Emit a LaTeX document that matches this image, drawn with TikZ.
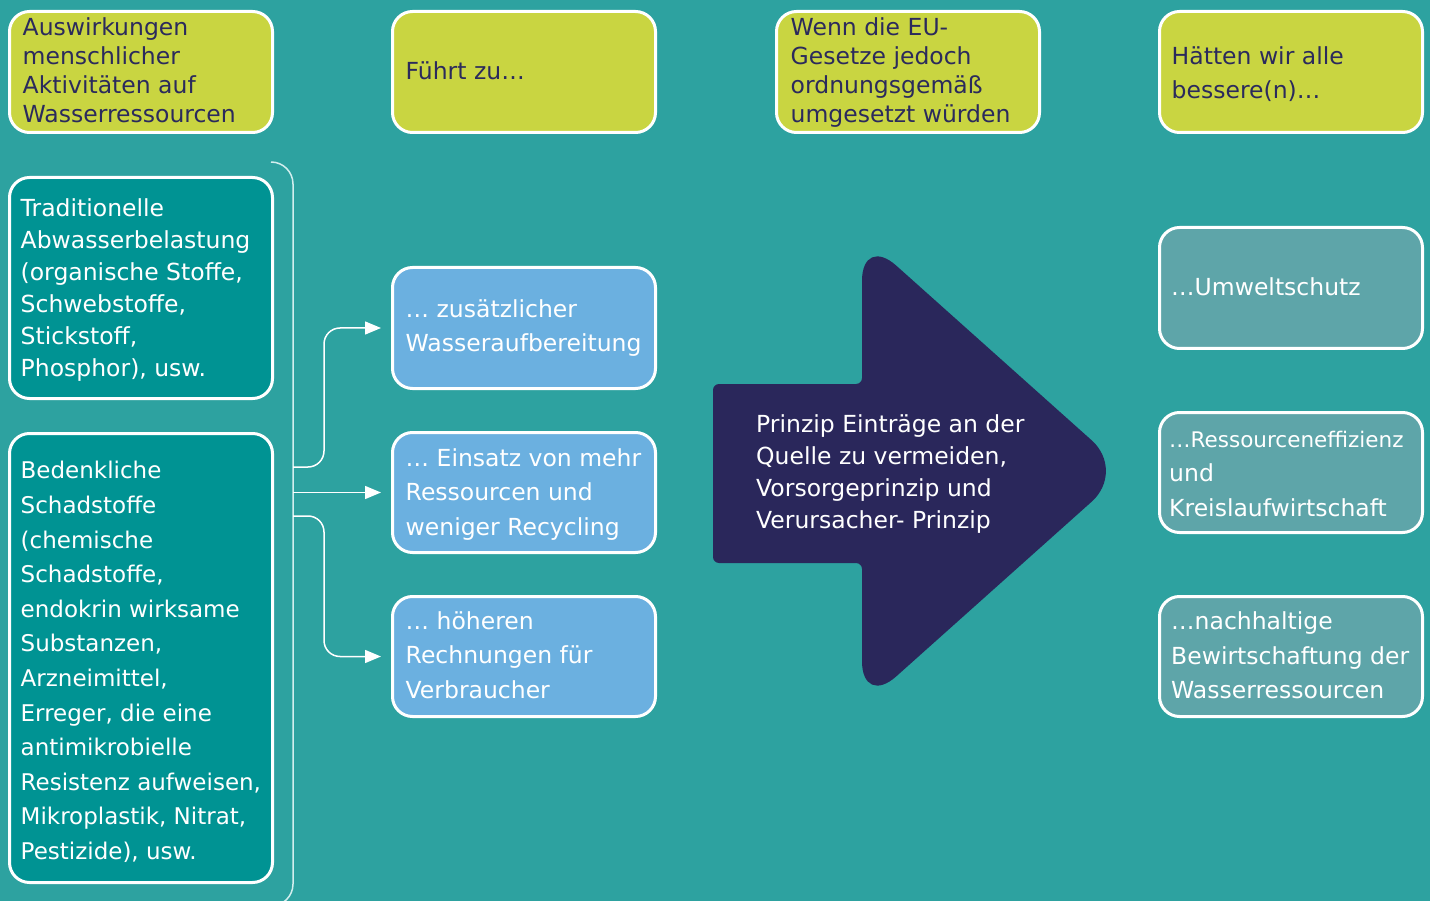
\documentclass[tikz,border=0pt]{standalone}
\usepackage{fontspec}
\setmainfont{DejaVu Sans}
\usetikzlibrary{arrows.meta}
\definecolor{bg}{HTML}{2DA2A0}
\definecolor{ylw}{HTML}{C9D541}
\definecolor{tealbox}{HTML}{009393}
\definecolor{lblue}{HTML}{6BB0E0}
\definecolor{gteal}{HTML}{5EA5A9}
\definecolor{navy}{HTML}{2A275B}
\definecolor{navytext}{HTML}{2B2A5C}
\definecolor{brkc}{HTML}{D2EEEE}
\begin{document}
\begin{tikzpicture}[x=1pt,y=-1pt,
  box/.style={draw=white, line width=3pt, rounded corners=20pt, minimum width=263pt, inner sep=0pt},
  ybox/.style={box, fill=ylw, minimum height=121pt},
  tbox/.style={box, fill=tealbox},
  lbox/.style={box, fill=lblue, minimum height=120pt},
  gbox/.style={box, fill=gteal, minimum height=120pt},
  txt/.style={anchor=west, align=left, inner sep=0pt, text=white},
  ytxt/.style={txt, text=navytext},
  conn/.style={draw=white, line width=1.5pt, rounded corners=16pt, shorten >=10pt, -{Triangle[length=16pt,width=13pt]}},
  brk/.style={draw=brkc, line width=1.5pt, rounded corners=22pt}
]
\useasboundingbox (0,0) rectangle (1430,901);
\fill[bg] (0,0) rectangle (1430,901);

% header boxes
\node[ybox] (y1) at (141,72) {};
\node[ybox] (y2) at (524,72) {};
\node[ybox] (y3) at (908,72) {};
\node[ybox] (y4) at (1291,72) {};
\node[ytxt, font=\fontsize{23.5}{29}\selectfont] (y1t) at ([xshift=14.5pt,yshift=1.5pt]y1.west) {Auswirkungen\\menschlicher\\Aktivitäten auf\\Wasserressourcen};
\node[ytxt, font=\fontsize{23.5}{29}\selectfont] (y2t) at ([xshift=14.5pt,yshift=1pt]y2.west) {Führt zu…};
\node[ytxt, font=\fontsize{23.5}{29}\selectfont] (y3t) at ([xshift=15.5pt,yshift=-1pt]y3.west) {Wenn die EU-\\Gesetze jedoch\\ordnungsgemäß\\umgesetzt würden};
\node[ytxt, font=\fontsize{23.5}{34}\selectfont] (y4t) at ([xshift=13.5pt,yshift=-2pt]y4.west) {Hätten wir alle\\bessere(n)…};

% left boxes
\node[tbox, minimum height=221pt] (t1) at (141,288) {};
\node[tbox, minimum height=449pt] (t2) at (141,658) {};
\node[txt, font=\fontsize{23.5}{32}\selectfont] (t1t) at ([xshift=12.5pt,yshift=-2pt]t1.west) {Traditionelle\\Abwasserbelastung\\(organische Stoffe,\\Schwebstoffe,\\Stickstoff,\\Phosphor), usw.};
\node[txt, font=\fontsize{23}{34.6}\selectfont] (t2t) at ([xshift=12.5pt,yshift=-4pt]t2.west) {Bedenkliche\\Schadstoffe\\(chemische\\Schadstoffe,\\endokrin wirksame\\Substanzen,\\Arzneimittel,\\Erreger, die eine\\antimikrobielle\\Resistenz aufweisen,\\Mikroplastik, Nitrat,\\Pestizide), usw.};

% bracket
\draw[brk] (271,162) -- (293,162) -- (293,906) -- (271,906);
\coordinate (b1) at (293,467);
\coordinate (b2) at (293,492.5);
\coordinate (b3) at (293,516);

% middle boxes
\node[lbox, minimum height=121pt] (lb1) at (524,328) {};
\node[lbox] (lb2) at (524,492.5) {};
\node[lbox] (lb3) at (524,656.5) {};
\node[txt, font=\fontsize{23.5}{34}\selectfont] (lb1t) at ([xshift=14.5pt,yshift=0pt]lb1.west) {… zusätzlicher\\Wasseraufbereitung};
\node[txt, font=\fontsize{23.5}{34.5}\selectfont] (lb2t) at ([xshift=14.5pt,yshift=-2pt]lb2.west) {… Einsatz von mehr\\Ressourcen und\\weniger Recycling};
\node[txt, font=\fontsize{23.5}{34.5}\selectfont] (lb3t) at ([xshift=14.5pt,yshift=1.5pt]lb3.west) {… höheren\\Rechnungen für\\Verbraucher};

% connectors
\draw[conn] (b1) -- ++(31,0) |- (lb1.west);
\draw[conn] (b2) -- (lb2.west);
\draw[conn] (b3) -- ++(31,0) |- (lb3.west);

% big arrow
\fill[navy] (713,473) [rounded corners=6pt] -- (713,384) -- (862,384) [rounded corners=46pt] -- (862,235) -- (1126,471) -- (862,707) [rounded corners=6pt] -- (862,563) -- (713,563) -- cycle;
\node[txt, font=\fontsize{23.5}{32}\selectfont] (at) at (756,474) {Prinzip Einträge an der\\Quelle zu vermeiden,\\Vorsorgeprinzip und\\Verursacher- Prinzip};

% right boxes
\node[gbox, minimum height=121pt] (r1) at (1291,288) {};
\node[gbox] (r2) at (1291,472.5) {};
\node[gbox] (r3) at (1291,656.5) {};
\node[txt, font=\fontsize{23.5}{34}\selectfont] (r1t) at ([xshift=13pt,yshift=1pt]r1.west) {…Umweltschutz};
\node[txt, font=\fontsize{23.5}{34.5}\selectfont] (r2t) at ([xshift=11pt,yshift=-1pt]r2.west) {{\fontsize{21.5}{34.5}\selectfont …Ressourceneffizienz}\\und\\Kreislaufwirtschaft};
\node[txt, font=\fontsize{23.5}{34.5}\selectfont] (r3t) at ([xshift=13pt,yshift=1pt]r3.west) {…nachhaltige\\Bewirtschaftung der\\Wasserressourcen};
\end{tikzpicture}
\end{document}
